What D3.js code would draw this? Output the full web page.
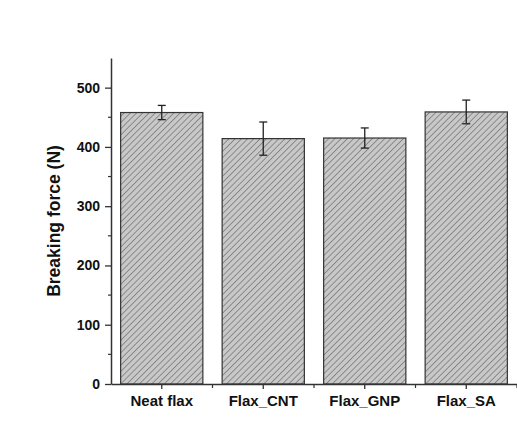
<!DOCTYPE html>
<html><head><meta charset="utf-8">
<script src="https://cdn.jsdelivr.net/npm/d3@7"></script>
<style>body{margin:0;background:#fff}</style>
</head><body>
<script>
const categories = ["Neat flax", "Flax_CNT", "Flax_GNP", "Flax_SA"];
const values = [458, 414, 415, 459];
const errors = [12, 28, 17, 20];
const yTicks = [0, 100, 200, 300, 400, 500];
const yLabel = "Breaking force (N)";

const W = 517, H = 448;
const svg = d3.select("body").append("svg").attr("width", W).attr("height", H);
const defs = svg.append("defs");
const P = 4.4;
const pat = defs.append("pattern").attr("id", "hatch").attr("patternUnits", "userSpaceOnUse")
  .attr("width", P).attr("height", P).attr("patternTransform", "rotate(45)");
pat.append("rect").attr("width", P).attr("height", P).attr("fill", "#c8c8c8");
pat.append("line").attr("x1", 0).attr("y1", 0).attr("x2", 0).attr("y2", P)
  .attr("stroke", "#7c7c7c").attr("stroke-width", 1.6);

const x = d3.scaleBand().domain(categories).range([111, 517]).paddingInner(0.19).paddingOuter(0.095);
const y = d3.scaleLinear().domain([0, 550]).range([384, 58]);

const font = "Arial, 'Liberation Sans', sans-serif";

// bars
svg.selectAll("rect.bar").data(categories).join("rect").attr("class", "bar")
  .attr("x", d => x(d)).attr("width", x.bandwidth())
  .attr("y", (d, i) => y(values[i])).attr("height", (d, i) => y(0) - y(values[i]))
  .attr("fill", "url(#hatch)").attr("stroke", "#333").attr("stroke-width", 1.2);

// error bars
const eb = svg.append("g").attr("stroke", "#222").attr("stroke-width", 1.3);
categories.forEach((c, i) => {
  const cx = x(c) + x.bandwidth() / 2;
  eb.append("line").attr("x1", cx).attr("x2", cx).attr("y1", y(values[i] + errors[i])).attr("y2", y(values[i] - errors[i]));
  eb.append("line").attr("x1", cx - 4).attr("x2", cx + 4).attr("y1", y(values[i] + errors[i])).attr("y2", y(values[i] + errors[i]));
  eb.append("line").attr("x1", cx - 4).attr("x2", cx + 4).attr("y1", y(values[i] - errors[i])).attr("y2", y(values[i] - errors[i]));
});

// y axis
const yAxis = svg.append("g").attr("transform", "translate(111,0)")
  .call(d3.axisLeft(y).tickValues(yTicks).tickSize(6).tickPadding(5).tickSizeOuter(0));
yAxis.select(".domain").attr("stroke", "#333").attr("stroke-width", 1.5);
yAxis.selectAll(".tick line").attr("stroke", "#333").attr("stroke-width", 1.3);
yAxis.selectAll(".tick text").attr("font-family", font).attr("font-size", 14).attr("font-weight", "bold").attr("fill", "#111");
// minor y ticks
const yMinor = d3.range(50, 550, 100);
svg.append("g").selectAll("line").data(yMinor).join("line")
  .attr("x1", 108).attr("x2", 111).attr("y1", d => y(d)).attr("y2", d => y(d))
  .attr("stroke", "#333").attr("stroke-width", 1.2);

// x axis
const xAxis = svg.append("g").attr("transform", "translate(0,384)")
  .call(d3.axisBottom(x).tickSize(5).tickPadding(6).tickSizeOuter(0));
xAxis.select(".domain").attr("stroke", "#333").attr("stroke-width", 1.5);
xAxis.selectAll(".tick line").attr("stroke", "#333").attr("stroke-width", 1.3);
xAxis.selectAll(".tick text").attr("font-family", font).attr("font-size", 15).attr("font-weight", "bold").attr("fill", "#111");
// minor x ticks at band boundaries
const bounds = categories.slice(1).map(c => x(c) - x.step() * x.paddingInner() / 2).concat([x(categories[3]) + x.bandwidth() + x.step() * x.paddingInner() / 2]);
svg.append("g").selectAll("line").data(bounds).join("line")
  .attr("x1", d => d).attr("x2", d => d).attr("y1", 384).attr("y2", 388)
  .attr("stroke", "#333").attr("stroke-width", 1.2);

// y label
svg.append("text").attr("transform", `translate(55,${(y(0) + y(550)) / 2}) rotate(-90)`)
  .attr("text-anchor", "middle").attr("dominant-baseline", "middle")
  .attr("font-family", font).attr("font-size", 17.5).attr("font-weight", "bold").attr("fill", "#111")
  .text(yLabel);
</script>
</body></html>
